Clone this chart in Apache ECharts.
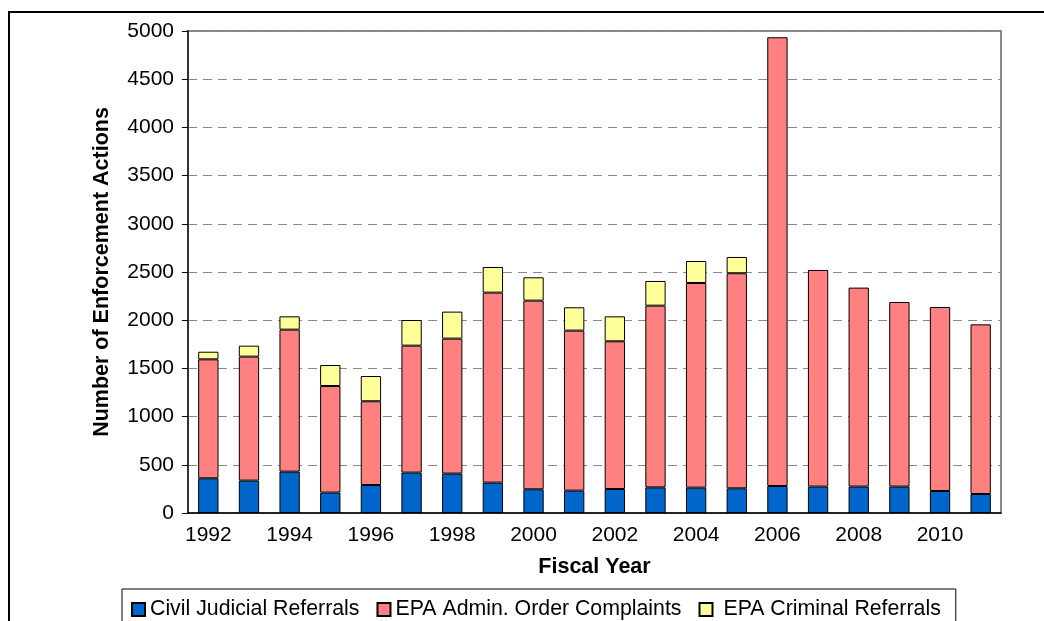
<!DOCTYPE html>
<html>
<head>
<meta charset="utf-8">
<title>EPA enforcement actions</title>
<script src="https://cdn.jsdelivr.net/npm/echarts@6/dist/echarts.min.js"></script>
<style>
  html, body { margin: 0; padding: 0; background: #fff; }
  #chart { width: 1044px; height: 621px; }
</style>
</head>
<body>
<div id="chart"></div>
<script>
// fiscal years on the x axis
const years = ['1992', '1993', '1994', '1995', '1996', '1997', '1998', '1999', '2000', '2001',
  '2002', '2003', '2004', '2005', '2006', '2007', '2008', '2009', '2010', '2011']

// values
const civilJudicial = [360, 336, 429, 212, 290, 419, 409, 315, 246, 232,
  249, 266, 263, 256, 280, 274, 274, 274, 228, 197]
const adminComplaints = [1234, 1286, 1473, 1105, 869, 1317, 1400, 1971, 1957, 1660,
  1532, 1885, 2123, 2231, 4655, 2247, 2064, 1915, 1909, 1760]
const criminalReferrals = [79, 114, 138, 218, 262, 266, 280, 266, 242, 242,
  259, 256, 228, 169, null, null, null, null, null, null]

const yTicks = { min: 0, max: 5000, step: 500 }

const font = 'Liberation Sans, Arial, sans-serif'
const chart = echarts.init(document.getElementById('chart'))

const barSeries = (name, data, color) => ({
  name: name,
  type: 'bar',
  stack: 'total',
  barWidth: '50%',
  data: data,
  itemStyle: { color: color, borderColor: '#000', borderWidth: 1 }
})

chart.setOption({
  animation: false,
  textStyle: { fontFamily: font },
  graphic: [{
    type: 'rect',
    shape: { x: 9, y: 12, width: 1200, height: 800 },
    style: { fill: 'none', stroke: '#000', lineWidth: 2 },
    silent: true
  }],
  grid: {
    left: 188, right: 43, top: 31, bottom: 108,
    show: true, borderColor: '#8a8a8a', borderWidth: 2
  },
  legend: {
    left: 122, top: 589,
    padding: [10, 15, 10, 9],
    borderColor: '#000', borderWidth: 1,
    itemWidth: 13, itemHeight: 13, itemGap: 17,
    icon: 'rect',
    // the criminal entry has a wider gap after its swatch in the original
    formatter: name => name === 'EPA Criminal Referrals' ? ' ' + name : name,
    textStyle: { fontFamily: font, fontSize: 21.3, color: '#000' }
  },
  xAxis: {
    type: 'category',
    data: years,
    name: 'Fiscal Year',
    nameLocation: 'middle',
    nameGap: 43,
    nameTextStyle: { fontFamily: font, fontSize: 21.5, fontWeight: 'bold', color: '#000' },
    axisLine: { lineStyle: { color: '#000', width: 1.5 } },
    axisTick: { interval: 0, length: 6, lineStyle: { color: '#000' } },
    axisLabel: { interval: 1, fontSize: 21, color: '#000', margin: 12 }
  },
  yAxis: {
    type: 'value',
    min: yTicks.min, max: yTicks.max, interval: yTicks.step,
    name: 'Number of Enforcement Actions',
    nameLocation: 'middle',
    nameGap: 75,
    nameTextStyle: { fontFamily: font, fontSize: 21.5, fontWeight: 'bold', color: '#000' },
    axisLine: { show: true, lineStyle: { color: '#333', width: 2 } },
    axisTick: { show: true, length: 6, lineStyle: { color: '#000' } },
    axisLabel: { fontSize: 21, color: '#000', margin: 14, formatter: v => String(v) },
    splitLine: { lineStyle: { color: '#888', type: [9, 6], width: 1 } }
  },
  series: [
    barSeries('Civil Judicial Referrals', civilJudicial, '#0066CC'),
    barSeries('EPA Admin. Order Complaints', adminComplaints, '#FF8080'),
    barSeries('EPA Criminal Referrals', criminalReferrals, '#FFFF99')
  ]
})
</script>
</body>
</html>
